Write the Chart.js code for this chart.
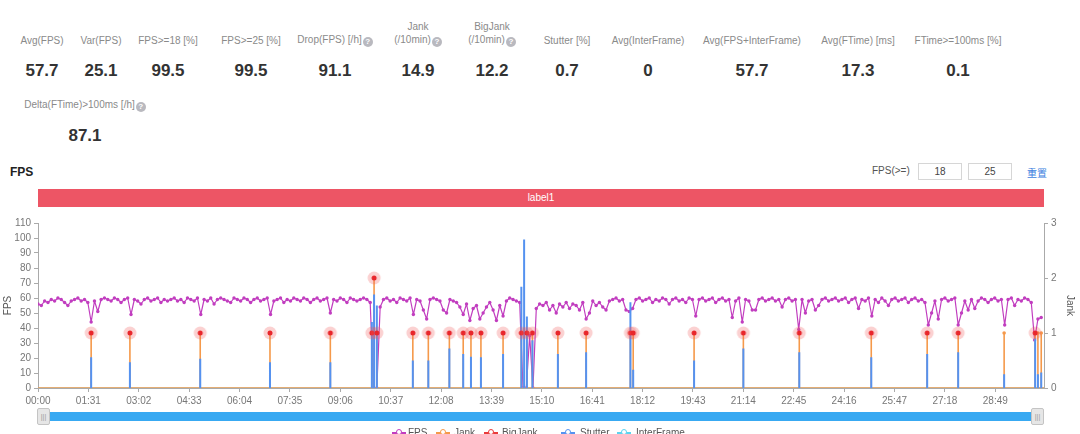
<!DOCTYPE html>
<html>
<head>
<meta charset="utf-8">
<script src="https://cdn.jsdelivr.net/npm/chart.js@4/dist/chart.umd.min.js"></script>
<style>
body { margin: 0; width: 1080px; height: 434px; overflow: hidden; background: #fff; position: relative;
  font-family: "Liberation Sans", Arial, "Noto Sans CJK SC", sans-serif; }
.stat { position: absolute; width: 140px; margin-left: -70px; text-align: center; }
.lab { height: 28px; display: flex; flex-direction: column; justify-content: flex-end; font-size: 10px; line-height: 13px; color: #8a8a8a; }
.val { margin-top: 14px; font-size: 17px; line-height: 20px; font-weight: bold; color: #333; }
.q { display: inline-block; width: 10px; height: 10px; border-radius: 50%; background: #b9b9bf; color: #fff;
  font-size: 8px; line-height: 10px; text-align: center; vertical-align: -1px; margin-left: 1px; font-weight: bold; }
#title { position: absolute; left: 10px; top: 165px; font-size: 12px; font-weight: bold; color: #222; }
#thr { position: absolute; left: 872px; top: 165px; font-size: 10px; color: #555; }
.box { position: absolute; top: 163px; width: 42px; height: 15px; border: 1px solid #d6d6d6; font-size: 10px; line-height: 15px; text-align: center; color: #444; }
#reset { position: absolute; left: 1027px; top: 165px; font-size: 10px; color: #3d7fe0; }
#band { position: absolute; left: 38px; top: 189px; width: 1006px; height: 18px; background: #ed5565; color: #fff;
  font-size: 10px; line-height: 18px; text-align: center; }
#chart { position: absolute; left: 0; top: 213px; }
#slider { position: absolute; left: 40px; top: 412px; width: 1000px; height: 9px; background: #38a9f2; }
.handle { position: absolute; top: 408px; width: 11px; height: 15px; background: #e6e6e6; border: 1px solid #c4c4c4; border-radius: 2px;
  font-size: 7px; line-height: 15px; text-align: center; color: #999; }
.leg { position: absolute; top: 427px; font-size: 10px; line-height: 12px; color: #555; }
.icon { position: absolute; top: 432px; width: 14px; height: 2px; }
.icon i { position: absolute; left: 4px; top: -3px; width: 4px; height: 4px; border-radius: 50%; background: #fff; border: 1px solid; }
</style>
</head>
<body>
<div id="stats"></div>
<div id="title">FPS</div>
<div id="thr">FPS(&gt;=)</div>
<div class="box" style="left:918px">18</div>
<div class="box" style="left:968px">25</div>
<div id="reset">重置</div>
<div id="band">label1</div>
<canvas id="chart" width="1080" height="197"></canvas>
<div id="slider"></div>
<div class="handle" style="left:37px">|||</div>
<div class="handle" style="left:1031px">|||</div>
<div id="legend"></div>
<script>
// summary numbers
const statNames = ['Avg(FPS)', 'Var(FPS)', 'FPS>=18 [%]', 'FPS>=25 [%]', 'Drop(FPS) [/h]', 'Jank<br>(/10min)', 'BigJank<br>(/10min)',
  'Stutter [%]', 'Avg(InterFrame)', 'Avg(FPS+InterFrame)', 'Avg(FTime) [ms]', 'FTime>=100ms [%]', 'Delta(FTime)>100ms [/h]'];
const statValues = ['57.7', '25.1', '99.5', '99.5', '91.1', '14.9', '12.2', '0.7', '0', '57.7', '17.3', '0.1', '87.1'];
const statHelp = [false, false, false, false, true, true, true, false, false, false, false, false, true];

// FPS sampled every 6 s
const fpsStep = 6;
const fpsValues = [
  56, 55, 58, 57, 59, 58, 60, 59, 57, 55, 58, 59, 60, 58, 59, 57, 44, 58, 51, 59,
  60, 59, 58, 60, 59, 57, 59, 60, 49, 59, 58, 56, 59, 60, 58, 59, 60, 57, 59, 58,
  59, 60, 58, 59, 57, 60, 59, 58, 60, 49, 59, 58, 60, 56, 59, 60, 59, 58, 57, 60,
  59, 58, 60, 59, 57, 59, 60, 58, 59, 60, 49, 58, 59, 60, 57, 59, 58, 60, 59, 58,
  60, 59, 57, 59, 60, 58, 59, 60, 50, 59, 58, 60, 59, 57, 60, 59, 58, 59, 60, 59,
  57, 0, 0, 54, 59, 60, 58, 59, 57, 60, 59, 58, 60, 49, 59, 58, 52, 46, 59, 60,
  59, 58, 52, 50, 59, 58, 57, 54, 49, 56, 45, 53, 55, 46, 50, 54, 57, 52, 45, 55,
  48, 58, 60, 59, 58, 57, 0, 0, 35, 0, 53, 56, 55, 57, 52, 55, 50, 56, 54, 57,
  53, 56, 55, 52, 57, 46, 50, 58, 55, 57, 54, 52, 58, 59, 60, 58, 59, 52, 51, 53,
  59, 60, 58, 59, 60, 57, 59, 58, 60, 59, 56, 59, 60, 58, 59, 57, 60, 59, 48, 59,
  60, 58, 59, 60, 57, 59, 60, 58, 59, 47, 58, 60, 44, 59, 58, 52, 52, 59, 60, 58,
  59, 60, 58, 59, 54, 59, 60, 58, 59, 39, 59, 50, 58, 59, 52, 55, 59, 60, 58, 59,
  60, 58, 59, 60, 57, 59, 60, 53, 59, 58, 60, 48, 59, 57, 60, 58, 55, 59, 60, 58,
  59, 60, 57, 59, 60, 58, 59, 57, 42, 50, 58, 46, 59, 60, 58, 59, 60, 42, 50, 58,
  52, 59, 53, 58, 60, 59, 57, 59, 60, 58, 59, 42, 59, 60, 55, 59, 58, 60, 59, 57,
  32, 46, 47
];

// events, time in seconds
const jankTimes = [96, 166, 293, 419, 528, 603, 607, 612, 677, 705, 743, 768, 782, 800, 840, 873, 883, 893,
  939, 990, 1070, 1075, 1185, 1274, 1375, 1505, 1606, 1662, 1745, 1801, 1806, 1812];
const jankValues = [1, 1, 1, 1, 1, 1, 2, 1, 1, 1, 1, 1, 1, 1, 1, 1, 1, 1,
  1, 1, 1, 1, 1, 1, 1, 1, 1, 1, 1, 1, 1, 1];
const bigJankTimes = [96, 166, 293, 419, 528, 603, 607, 612, 677, 705, 743, 768, 782, 800, 840, 873, 883, 893,
  939, 990, 1070, 1075, 1185, 1274, 1375, 1505, 1606, 1662, 1801];
const bigJankValues = [1, 1, 1, 1, 1, 1, 2, 1, 1, 1, 1, 1, 1, 1, 1, 1, 1, 1,
  1, 1, 1, 1, 1, 1, 1, 1, 1, 1, 1];
const stutterTimes = [96, 166, 293, 419, 528, 603, 607, 612, 677, 705, 743, 768, 782, 800, 840, 873, 878, 883, 893,
  939, 990, 1070, 1075, 1185, 1274, 1375, 1505, 1606, 1662, 1745, 1801, 1806, 1812];
const stutterValues = [0.56, 0.47, 0.53, 0.47, 0.47, 1.2, 1.7, 1.5, 0.5, 0.5, 0.72, 0.62, 0.57, 0.56, 0.62, 1.84, 2.7, 1.3, 0.87,
  0.62, 0.65, 1.56, 0.33, 0.5, 0.72, 0.65, 0.56, 0.62, 0.65, 0.25, 0.9, 0.25, 0.28];
const interFrameTimes = [0, 1817];
const interFrameValues = [0, 0];

const xTickLabels = ['00:00', '01:31', '03:02', '04:33', '06:04', '07:35', '09:06', '10:37', '12:08', '13:39',
  '15:10', '16:41', '18:12', '19:43', '21:14', '22:45', '24:16', '25:47', '27:18', '28:49'];
const xMax = 1817;

const colors = { fps: '#c13dbf', jank: '#f5994a', bigJank: '#ea3b3b', stutter: '#5592f0', interFrame: '#5bd3ef' };

// stats panel
const statPos = [[42, 19], [101, 19], [168, 19], [251, 19], [335, 19], [418, 19], [492, 19], [567, 19],
  [648, 19], [752, 19], [858, 19], [958, 19], [85, 84]];
let html = '';
statNames.forEach((name, i) => {
  html += '<div class="stat" style="left:' + statPos[i][0] + 'px;top:' + statPos[i][1] + 'px">' +
    '<div class="lab"><div>' + name + (statHelp[i] ? '<span class="q">?</span>' : '') + '</div></div>' +
    '<div class="val">' + statValues[i] + '</div></div>';
});
document.getElementById('stats').innerHTML = html;

// legend
const legendItems = [['FPS', colors.fps, 392, 408], ['Jank', colors.jank, 436, 454], ['BigJank', colors.bigJank, 484, 502],
  ['Stutter', colors.stutter, 561, 580], ['InterFrame', colors.interFrame, 617, 636]];
let leg = '';
legendItems.forEach(it => {
  leg += '<div class="icon" style="left:' + it[2] + 'px;background:' + it[1] + '"><i style="border-color:' + it[1] + '"></i></div>' +
    '<div class="leg" style="left:' + it[3] + 'px">' + it[0] + '</div>';
});
document.getElementById('legend').innerHTML = leg;

function toSeconds(label) {
  const p = label.split(':');
  return Number(p[0]) * 60 + Number(p[1]);
}
function fmt(v) {
  const m = Math.floor(v / 60), s = Math.round(v % 60);
  return String(m).padStart(2, '0') + ':' + String(s).padStart(2, '0');
}

// vertical spikes from event lists
function spikeLine(times, values, withBase) {
  const pts = [];
  if (withBase) pts.push({ x: 0, y: 0 });
  times.forEach((t, i) => {
    pts.push({ x: t, y: 0 }, { x: t, y: values[i] }, { x: t, y: 0 });
    if (!withBase) pts.push({ x: t, y: null });
  });
  if (withBase) pts.push({ x: xMax, y: 0 });
  return pts;
}

// red dot with soft halo for BigJank
const halo = document.createElement('canvas');
halo.width = 16; halo.height = 16;
const hc = halo.getContext('2d');
hc.fillStyle = 'rgba(240, 90, 90, 0.28)';
hc.beginPath(); hc.arc(8, 8, 6.5, 0, Math.PI * 2); hc.fill();
hc.fillStyle = '#e8262c';
hc.beginPath(); hc.arc(8, 8, 2.5, 0, Math.PI * 2); hc.fill();

const tickFont = { size: 10, family: '"Liberation Sans", Arial, sans-serif' };

new Chart(document.getElementById('chart'), {
  type: 'line',
  data: {
    datasets: [
      {
        label: 'BigJank', order: 0, yAxisID: 'y1', showLine: false,
        data: bigJankTimes.map((t, i) => ({ x: t, y: bigJankValues[i] })),
        pointStyle: halo, borderColor: colors.bigJank, backgroundColor: colors.bigJank
      },
      {
        label: 'Stutter', order: 1, yAxisID: 'y1', data: spikeLine(stutterTimes, stutterValues, false),
        borderColor: colors.stutter, borderWidth: 2, pointRadius: 0, spanGaps: false
      },
      {
        label: 'Jank', order: 2, yAxisID: 'y1', data: spikeLine(jankTimes, jankValues, true),
        borderColor: colors.jank, backgroundColor: colors.jank, borderWidth: 1.6,
        pointRadius: c => (c.raw && c.raw.y > 0 ? 1.8 : 0), pointBorderWidth: 0
      },
      {
        label: 'FPS', order: 3, yAxisID: 'y', data: fpsValues.map((v, i) => ({ x: i * fpsStep, y: v })),
        borderColor: colors.fps, backgroundColor: colors.fps, borderWidth: 1.2,
        pointRadius: 1.7, pointBorderWidth: 0
      },
      {
        label: 'InterFrame', order: 4, yAxisID: 'y1', data: interFrameTimes.map((t, i) => ({ x: t, y: interFrameValues[i] })),
        borderColor: colors.interFrame, borderWidth: 1, pointRadius: 0
      }
    ]
  },
  options: {
    responsive: false,
    animation: false,
    borderJoinStyle: 'bevel',
    layout: { padding: { top: 10 } },
    plugins: { legend: { display: false }, tooltip: { enabled: false } },
    scales: {
      x: {
        type: 'linear', min: 0, max: xMax,
        afterBuildTicks: s => { s.ticks = xTickLabels.map(l => ({ value: toSeconds(l) })); },
        afterFit: s => { s.height = 22; },
        ticks: { callback: v => fmt(v), font: tickFont, color: '#777', maxRotation: 0, autoSkip: false, padding: 3 },
        grid: { display: true, drawOnChartArea: false, tickLength: 4, color: '#aaa' },
        border: { color: '#aaa' }
      },
      y: {
        position: 'left', min: 0, max: 110,
        afterFit: s => { s.width = 38; },
        ticks: { stepSize: 10, font: tickFont, color: '#777', padding: 3 },
        grid: { display: true, drawOnChartArea: false, tickLength: 4, color: '#aaa' },
        border: { color: '#aaa' },
        title: { display: true, text: 'FPS', font: tickFont, color: '#555', padding: { top: 2, bottom: 0 } }
      },
      y1: {
        position: 'right', min: 0, max: 3,
        afterFit: s => { s.width = 36; },
        ticks: { stepSize: 1, font: tickFont, color: '#777', padding: 3 },
        grid: { display: true, drawOnChartArea: false, tickLength: 4, color: '#aaa' },
        border: { color: '#aaa' },
        title: { display: true, text: 'Jank', font: tickFont, color: '#555', padding: { top: 4, bottom: 0 } }
      }
    }
  }
});
</script>
</body>
</html>
